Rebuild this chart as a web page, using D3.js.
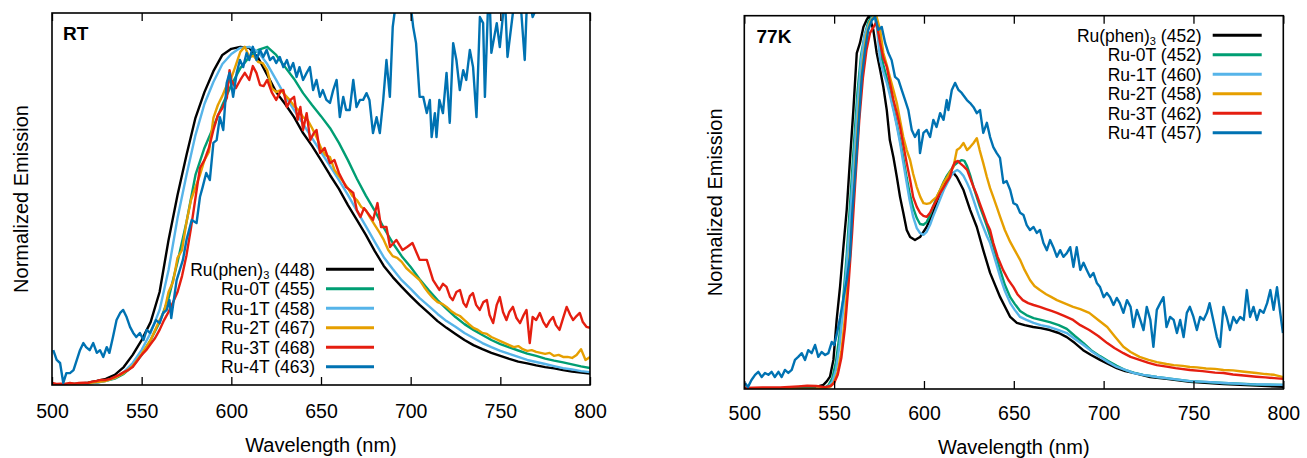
<!DOCTYPE html>
<html><head><meta charset="utf-8">
<script src="https://cdn.jsdelivr.net/npm/d3@7"></script>
<style>
body{margin:0;background:#fff}
svg{display:block}
text{font-family:"Liberation Sans",Arial,Helvetica,sans-serif;fill:#000}
</style>
</head><body>
<svg id="c" width="1307" height="458"></svg>
<script>
// ---------- data ----------
const xTicks = [500, 550, 600, 650, 700, 750, 800];
const seriesNames = ["Ru(phen)3", "Ru-0T", "Ru-1T", "Ru-2T", "Ru-3T", "Ru-4T"];
const seriesColors = ["#000000", "#009e73", "#56b4e9", "#e69f00", "#e51e10", "#0072b2"];
const rtPeaks = ["(448)", "(455)", "(458)", "(467)", "(468)", "(463)"];
const lowTPeaks = ["(452)", "(452)", "(460)", "(458)", "(462)", "(457)"];

// Room temperature spectra [wavelength nm, normalized emission]
const rtBlack = [[500,.002],[505,.002],[510,.003],[515,.004],[520,.007],[525,.012],[530,.018],[535,.030],[540,.053],[545,.089],[550,.133],[555,.186],[560,.275],[565,.429],[570,.562],[575,.680],[580,.790],[585,.866],[590,.928],[595,.976],[600,.994],[605,1.0],[610,.997],[615,.967],[620,.917],[625,.866],[630,.831],[635,.792],[640,.745],[645,.707],[650,.665],[655,.621],[660,.580],[665,.532],[670,.488],[675,.444],[680,.396],[685,.352],[690,.319],[695,.290],[700,.263],[705,.237],[710,.213],[715,.189],[720,.169],[725,.151],[730,.133],[735,.118],[740,.106],[745,.095],[750,.086],[755,.077],[760,.069],[765,.064],[770,.058],[775,.053],[780,.049],[785,.044],[790,.040],[795,.037],[800,.034]];
const rtGreen = [[500,.002],[505,.002],[510,.002],[515,.003],[520,.004],[525,.007],[530,.012],[535,.019],[540,.033],[545,.056],[550,.089],[555,.133],[560,.186],[565,.257],[570,.364],[575,.482],[580,.621],[585,.701],[590,.763],[595,.828],[600,.887],[605,.937],[610,.970],[615,.991],[620,1.0],[625,.976],[630,.940],[635,.905],[640,.863],[645,.828],[650,.795],[655,.760],[660,.716],[665,.665],[670,.610],[675,.560],[680,.515],[685,.465],[690,.420],[695,.381],[700,.349],[705,.313],[710,.281],[715,.251],[720,.225],[725,.201],[730,.180],[735,.163],[740,.148],[745,.133],[750,.121],[755,.111],[760,.102],[765,.093],[770,.086],[775,.078],[780,.072],[785,.067],[790,.061],[795,.055],[800,.050]];
const rtLightBlue = [[500,.002],[505,.002],[510,.002],[515,.003],[520,.004],[525,.007],[530,.012],[535,.021],[540,.038],[545,.065],[550,.104],[555,.154],[560,.222],[565,.340],[570,.494],[575,.621],[580,.739],[585,.831],[590,.896],[595,.949],[600,.979],[605,.997],[610,1.0],[615,.985],[620,.949],[625,.902],[630,.855],[635,.813],[640,.772],[645,.730],[650,.689],[655,.648],[660,.606],[665,.562],[670,.515],[675,.470],[680,.423],[685,.378],[690,.343],[695,.310],[700,.284],[705,.257],[710,.234],[715,.210],[720,.189],[725,.172],[730,.154],[735,.139],[740,.124],[745,.112],[750,.101],[755,.092],[760,.083],[765,.074],[770,.068],[775,.062],[780,.056],[785,.050],[790,.046],[795,.041],[800,.038]];
const rtOrange = [[500,.002],[505,.002],[510,.003],[515,.004],[520,.006],[525,.009],[530,.012],[535,.021],[540,.035],[545,.056],[550,.092],[555,.133],[560,.192],[562.5,.216],[565,.275],[567.5,.305],[570,.376],[572.5,.399],[575,.482],[577.5,.547],[580,.585],[582.5,.621],[585,.665],[587.5,.689],[590,.790],[592.5,.828],[595,.855],[597.5,.887],[600,.908],[602.5,.946],[605,.985],[607.5,1.0],[610,.970],[612.5,.973],[615,.955],[617.5,.952],[620,.931],[622.5,.878],[625,.866],[627.5,.872],[630,.857],[632.5,.843],[635,.825],[637.5,.813],[640,.792],[642.5,.784],[645,.760],[647.5,.733],[650,.701],[652.5,.680],[655,.674],[657.5,.636],[660,.618],[662.5,.600],[665,.582],[667.5,.559],[670,.547],[672.5,.526],[675,.517],[677.5,.494],[680,.473],[682.5,.452],[685,.429],[687.5,.399],[690,.381],[692.5,.376],[695,.364],[697.5,.346],[700,.334],[702.5,.322],[705,.310],[707.5,.290],[710,.272],[712.5,.257],[715,.245],[717.5,.240],[720,.231],[722.5,.219],[725,.210],[727.5,.204],[730,.192],[732.5,.180],[735,.169],[737.5,.163],[740,.154],[742.5,.151],[745,.142],[747.5,.136],[750,.130],[752.5,.124],[755,.118],[757.5,.112],[760,.115],[762.5,.106],[765,.101],[767.5,.103],[770,.098],[772.5,.095],[775,.092],[777.5,.095],[780,.086],[782.5,.089],[785,.083],[787.5,.083],[790,.080],[792.5,.089],[795,.106],[797.5,.074],[800,.083]];
const rtRed = [[500,.006],[502.5,.003],[505,.004],[507.5,.003],[510,.006],[512.5,.004],[515,.006],[517.5,.007],[520,.006],[522.5,.010],[525,.012],[527.5,.015],[530,.015],[532.5,.018],[535,.024],[537.5,.030],[540,.038],[542.5,.044],[545,.053],[547.5,.071],[550,.089],[552.5,.103],[555,.121],[557.5,.139],[560,.163],[562.5,.192],[565,.216],[567.5,.245],[570,.275],[572.5,.322],[575,.384],[577.5,.464],[580,.553],[582.5,.642],[585,.665],[587.5,.701],[590,.754],[592.5,.798],[595,.819],[597.5,.849],[599,.931],[600,.902],[602.5,.878],[605,.902],[607.5,.923],[610,.902],[612,.943],[614,.923],[616,.887],[618,.884],[620,.902],[622.5,.866],[625,.843],[627.5,.869],[629,.872],[631,.822],[633,.843],[635,.852],[637,.784],[638.5,.822],[640,.754],[642,.804],[644,.724],[646,.745],[647.5,.754],[649.5,.686],[652,.701],[655,.656],[657.5,.665],[660,.627],[662,.606],[664,.585],[666,.577],[668,.568],[670,.517],[672,.497],[674,.523],[676,.509],[679,.488],[681.5,.538],[683.5,.467],[686.5,.467],[688.5,.408],[692,.429],[695.5,.399],[698,.408],[701,.420],[705,.370],[709,.370],[712.5,.310],[716,.281],[718,.299],[720,.290],[722,.260],[723.5,.251],[725.5,.275],[727.5,.281],[729.5,.242],[731,.231],[733,.263],[734.7,.272],[736.5,.237],[738.5,.222],[740.5,.245],[742.5,.251],[744,.207],[746,.183],[748,.237],[749.7,.260],[751.5,.216],[753.4,.192],[755,.216],[757,.231],[759,.198],[761,.183],[763,.207],[764.6,.222],[766.4,.124],[768,.201],[770,.192],[772,.213],[774,.186],[775.7,.172],[777.5,.189],[779.4,.201],[781,.177],[783,.163],[785,.198],[787,.231],[789,.207],[790.6,.192],[792.5,.204],[794.3,.213],[796,.186],[798,.172],[800,.169]];
const rtBlue = [[500.7,.103],[502.6,.074],[504.5,.065],[506.3,.006],[508,.035],[510,.035],[512,.044],[515.6,.103],[517.5,.124],[519,.112],[521,.103],[523,.124],[525,.095],[526.8,.103],[528.6,.083],[530.5,.112],[532,.095],[534,.142],[536,.192],[538,.213],[539.7,.222],[541.6,.201],[543.5,.172],[545.3,.154],[547,.142],[549,.154],[551,.133],[552.8,.163],[554.6,.154],[558,.192],[560,.183],[562,.213],[564,.222],[565.5,.251],[566.5,.198],[569.5,.310],[573,.370],[575,.429],[577.9,.488],[580.6,.479],[582.5,.556],[584,.585],[586,.627],[588,.606],[590,.716],[591.8,.724],[593.6,.792],[595.5,.754],[597.4,.893],[599,.923],[601,.852],[603,.923],[604.8,.961],[606.6,.940],[608.5,.982],[610,.961],[612,1.0],[614,.961],[616,.991],[617.8,.970],[619.7,.991],[621.5,.961],[623.4,.970],[625,.952],[627,.970],[629,.940],[631,.961],[632.7,.931],[634.5,.952],[636.4,.911],[638,.940],[640,.902],[642,.923],[643.8,.940],[645.6,.872],[647.5,.902],[649.4,.852],[651,.872],[653,.843],[655,.834],[656.8,.872],[658.7,.902],[660.5,.792],[662.4,.852],[664,.813],[666,.813],[668,.902],[669.8,.822],[671.7,.843],[673.5,.843],[675.4,.863],[677,.843],[679,.745],[681,.792],[682.8,.745],[684.7,.843],[686.5,.961],[688.4,.852],[690,1.059],[691,1.10],[693,1.17],[697,1.18],[700.5,1.10],[701.4,1.059],[703,1.011],[705,.852],[707,.852],[709,.804],[710.7,.843],[711.7,.733],[713.5,.804],[714.4,.733],[716,.843],[718,.804],[720,.923],[721.8,.775],[723.7,1.011],[725.5,.961],[727.4,.872],[729.3,.931],[731,.902],[733,.991],[734.8,.940],[736.7,.792],[738.6,1.088],[740.4,1.070],[741.4,.852],[743,1.10],[744,1.153],[745,.982],[748,1.070],[749.7,.999],[751.6,1.10],[752.5,1.153],[754,.970],[757,1.10],[759,1.168],[761,1.153],[763.6,.961],[764.6,1.10],[766,1.153],[768,1.088],[769,1.10],[771,1.168],[775,1.197],[780,1.18],[785,1.21],[790,1.18],[795,1.197],[800,1.21]];

// 77 K spectra [wavelength nm, normalized emission]
const lowTBlack = [[500,.002],[510,.001],[520,.001],[530,.003],[540,.005],[542,.008],[544,.011],[546,.021],[547.7,.033],[549.6,.078],[551.4,.185],[553.3,.274],[555,.372],[557,.480],[558.8,.613],[560.7,.747],[562.6,.900],[564.4,.927],[566.3,.970],[568,.988],[569.5,1.0],[571.8,.962],[573.7,.900],[575.6,.855],[577.4,.809],[579.3,.747],[581,.667],[583,.621],[584.9,.568],[586.7,.514],[588.5,.472],[590.4,.426],[592.3,.407],[595,.399],[597.8,.407],[601.5,.434],[605,.472],[609,.525],[612.7,.568],[616.4,.579],[618.3,.568],[622,.533],[625.7,.480],[629.4,.434],[633,.372],[636.8,.311],[642.4,.246],[648,.193],[651.7,.177],[656,.171],[660.8,.166],[665,.163],[670,.158],[675,.150],[679.5,.139],[684,.123],[688.6,.104],[693,.091],[698,.078],[702.5,.067],[707.3,.056],[712,.048],[716.6,.043],[721,.038],[725.9,.032],[735,.027],[748,.019],[766.7,.013],[785,.009],[800,.006]];
const lowTGreen = [[500,0],[520,0],[540,.001],[545,.004],[547,.011],[549,.029],[551,.072],[553,.145],[555,.238],[557,.359],[559,.506],[561,.654],[563,.796],[565,.895],[567,.948],[569,.983],[571,.997],[572.5,1.0],[574,.967],[575.6,.908],[577.4,.868],[579.3,.833],[581,.796],[583,.753],[585,.707],[586.7,.667],[588.5,.619],[590.4,.565],[592,.525],[594,.485],[596,.458],[597.8,.442],[599.7,.440],[601.5,.447],[603.4,.466],[605,.488],[607,.512],[609,.533],[611,.555],[613,.573],[615,.587],[617,.600],[619,.608],[621,.613],[622.5,.611],[624,.597],[625.7,.573],[627.6,.541],[629.4,.514],[631,.490],[633,.464],[635,.437],[636.8,.410],[640,.359],[642.4,.319],[645,.279],[648,.246],[650.5,.228],[653.5,.209],[657,.198],[661,.190],[665,.185],[670,.179],[675,.171],[679.5,.161],[684,.142],[688.8,.123],[693,.104],[698,.088],[702.5,.075],[707.3,.062],[712,.051],[716.6,.044],[722,.038],[729.6,.032],[738,.027],[748,.021],[766.7,.016],[785,.012],[800,.011]];
const lowTLightBlue = [[500,0],[520,0],[540,.001],[545,.003],[547,.008],[549,.019],[551,.051],[553,.118],[555,.212],[557,.332],[559,.466],[561,.613],[563,.761],[565,.881],[567,.948],[569,.975],[571,.994],[572.5,1.0],[574,.962],[575.6,.881],[577.4,.849],[579.3,.820],[581,.788],[583,.747],[585,.702],[586.7,.659],[588.5,.606],[590.4,.552],[592,.506],[594,.461],[596,.431],[597.8,.418],[599.7,.413],[601.5,.421],[603.4,.440],[605,.461],[607,.485],[609,.509],[611,.533],[613,.552],[615,.571],[617,.582],[618.5,.587],[620,.582],[622,.571],[624,.552],[625.7,.533],[627.6,.506],[629.4,.480],[631,.458],[633,.434],[635,.410],[636.8,.391],[640,.340],[642.4,.300],[645,.263],[648,.230],[650.5,.212],[653.5,.193],[657,.185],[661,.177],[665,.171],[670,.166],[675,.158],[679.5,.150],[684,.134],[688.8,.118],[693,.102],[698,.086],[702.5,.072],[707.3,.059],[712,.051],[716.6,.043],[722,.038],[729.6,.032],[738,.027],[748,.021],[757,.019],[766.7,.016],[780,.013],[790,.012],[800,.011]];
const lowTOrange = [[500,0],[520,0],[540,.001],[545,.002],[548,.007],[550,.019],[552,.046],[554,.099],[556,.190],[558,.313],[560,.453],[562,.613],[564,.761],[566,.876],[568,.948],[570,.983],[572,.997],[573.5,1.0],[575.6,.962],[577.4,.900],[579.3,.868],[581,.836],[583,.801],[584.9,.766],[586.7,.720],[588.5,.675],[590.4,.640],[592.3,.613],[594,.576],[596,.541],[598,.514],[599.7,.498],[601.5,.496],[603.4,.498],[605,.506],[607,.514],[609,.533],[610.9,.552],[613,.568],[614.5,.581],[616.4,.595],[618.3,.640],[620,.646],[622,.659],[624,.640],[625.7,.648],[627.6,.659],[629.4,.672],[631,.640],[633,.605],[635,.568],[636.8,.538],[638.6,.514],[640.5,.488],[642.4,.461],[645,.426],[648,.394],[650.5,.372],[653.5,.346],[656,.319],[659,.292],[661.5,.276],[664.5,.265],[668,.254],[671,.246],[674,.238],[678,.230],[683,.220],[687,.214],[692,.204],[697,.185],[702,.166],[706,.142],[711,.113],[715,.099],[720,.086],[725,.078],[729.6,.072],[735,.067],[739,.064],[744,.062],[748,.059],[752,.058],[757,.055],[762,.054],[766.7,.051],[772,.050],[777,.047],[785,.043],[790,.040],[795,.038],[800,.032]];
const lowTRed = [[500,.003],[510,.004],[520,.004],[530,.007],[535,.009],[540,.008],[545,.005],[548,.008],[550,.016],[552,.038],[554,.083],[556,.163],[558,.279],[560,.418],[562,.573],[564,.721],[566,.833],[568,.908],[570,.954],[572,.970],[573.5,.983],[575.6,.927],[577.4,.887],[579.3,.863],[581,.822],[583,.774],[584.9,.739],[586.7,.702],[588.5,.654],[590.4,.605],[592.3,.560],[594,.514],[596,.488],[597.8,.472],[599.7,.464],[601.5,.461],[603.4,.472],[605,.488],[607,.506],[609,.525],[611,.541],[612.7,.555],[614.5,.568],[616,.595],[617.3,.608],[619,.611],[620,.605],[622,.597],[624,.587],[625.7,.565],[627.6,.541],[629.4,.520],[631,.498],[633,.472],[635,.445],[636.8,.426],[638.6,.391],[641,.354],[644,.319],[647,.292],[649.8,.273],[652,.254],[655,.238],[658,.230],[661,.225],[664.5,.220],[668,.214],[671,.209],[674,.204],[678,.196],[683,.185],[687,.171],[692,.158],[697,.142],[702,.123],[706,.110],[711,.096],[715,.086],[720,.078],[725,.070],[729.6,.064],[735,.060],[740,.056],[748,.051],[755,.048],[762,.044],[766.7,.043],[772,.039],[778,.036],[785,.033],[790,.031],[795,.029],[800,.027]];
const lowTBlue = [[500.4,.016],[502,.005],[504,.024],[506,.038],[507.8,.046],[509.7,.032],[511.5,.043],[513.4,.038],[515.2,.046],[517,.032],[519,.046],[520.8,.032],[522.6,.051],[524.5,.043],[526.4,.051],[528.2,.078],[530,.086],[532,.096],[533.8,.078],[535.6,.104],[537.5,.096],[539.4,.118],[541.2,.086],[543,.099],[545,.091],[546.8,.096],[548.7,.126],[550,.118],[551.4,.145],[553.3,.190],[555,.238],[557,.292],[558.8,.354],[560,.466],[561.6,.568],[563.5,.702],[565.4,.836],[567.2,.908],[569,.962],[571,.988],[572.8,.997],[574.6,.962],[576.5,.970],[578.4,.927],[580.2,.900],[582,.881],[583.9,.836],[585.8,.828],[587.6,.801],[589.5,.774],[591.3,.747],[593.2,.694],[595,.675],[597,.694],[597.8,.632],[599.7,.686],[601.5,.694],[603.4,.675],[605.2,.721],[607,.702],[609,.739],[610.9,.721],[612.7,.774],[613.6,.747],[615.5,.801],[617.3,.820],[619.2,.801],[621,.793],[623.9,.774],[625.7,.766],[627.6,.755],[629.4,.739],[631.2,.747],[633,.686],[635,.713],[636.8,.675],[638.6,.648],[640.5,.632],[642.3,.619],[644.2,.552],[646,.557],[648,.533],[649.8,.498],[651.7,.493],[653.5,.472],[655.4,.466],[657.2,.439],[659,.426],[661,.434],[662.8,.418],[664.6,.426],[666.5,.391],[668.4,.372],[670.2,.399],[672,.380],[674,.354],[675.8,.372],[677.6,.354],[679.5,.364],[681.4,.380],[683.2,.327],[685,.380],[687,.319],[688.8,.338],[690.6,.319],[692.5,.300],[694.3,.311],[696.2,.284],[698,.273],[700,.246],[701.8,.257],[703.6,.246],[705.5,.225],[707.3,.244],[709,.230],[711,.204],[713,.238],[715,.220],[716.6,.166],[718.5,.212],[720.4,.185],[722.2,.158],[724,.220],[726,.185],[727.7,.113],[729.6,.212],[731.5,.230],[733.3,.246],[735,.166],[737,.193],[739,.185],[740.8,.150],[742.6,.185],[744.5,.139],[746.3,.204],[748,.220],[750,.193],[751.9,.158],[753.7,.193],[755.6,.185],[757.5,.204],[759,.230],[761,.185],[763,.139],[764.8,.113],[766.7,.220],[768.5,.193],[770.3,.158],[772.2,.193],[774,.177],[776,.193],[778,.185],[779.7,.265],[781.5,.193],[783.4,.220],[785.3,.185],[787,.212],[789,.204],[791,.230],[792.8,.265],[794.6,.212],[796.5,.273],[798.3,.204],[799.8,.150]];

// ---------- drawing ----------
const svg = d3.select("#c");
const panels = [
  {tag:"RT", series:[rtBlack,rtGreen,rtLightBlue,rtOrange,rtRed,rtBlue], peaks:rtPeaks,
   left:52, right:590, top:13, bottom:385, yMax:1.1, tickPad:19, titleY:451.5, yTitleX:28,
   tagX:63, tagY:39.5, legTextX:315, legLine:[326,374], legY0:269.3},
  {tag:"77K", series:[lowTBlack,lowTGreen,lowTLightBlue,lowTOrange,lowTRed,lowTBlue], peaks:lowTPeaks,
   left:744.3, right:1283.3, top:15.7, bottom:389, yMax:1.0, tickPad:17, titleY:453.5, yTitleX:721.5,
   tagX:756.5, tagY:43, legTextX:1201.7, legLine:[1212.7,1261.7], legY0:35.3}
];

panels.forEach((p, pi) => {
  const x = d3.scaleLinear().domain([500, 800]).range([p.left, p.right]);
  const y = d3.scaleLinear().domain([0, p.yMax]).range([p.bottom, p.top]);
  const g = svg.append("g");
  const clipId = "clip" + pi;
  svg.append("clipPath").attr("id", clipId).append("rect")
    .attr("x", p.left).attr("y", p.top).attr("width", p.right - p.left).attr("height", p.bottom - p.top);

  const line = d3.line().x(d => x(d[0])).y(d => y(d[1]));
  const lg = g.append("g").attr("clip-path", `url(#${clipId})`);
  p.series.forEach((s, i) => {
    lg.append("path").datum(s).attr("d", line)
      .attr("fill", "none").attr("stroke", seriesColors[i])
      .attr("stroke-width", 2.4).attr("stroke-linejoin", "round");
  });

  // axes
  const xb = g.append("g").attr("transform", `translate(0,${p.bottom})`)
    .call(d3.axisBottom(x).tickValues(xTicks).tickSizeInner(-8).tickSizeOuter(0).tickPadding(p.tickPad).tickFormat(d3.format("d")));
  xb.select(".domain").remove();
  xb.selectAll("line").attr("stroke", "#000").attr("stroke-width", 1.3);
  xb.selectAll("text").style("font-size", "19.5px").attr("fill", "#000");
  const xt = g.append("g").attr("transform", `translate(0,${p.top})`)
    .call(d3.axisTop(x).tickValues(xTicks).tickSizeInner(-8).tickSizeOuter(0).tickFormat(""));
  xt.select(".domain").remove();
  xt.selectAll("line").attr("stroke", "#000").attr("stroke-width", 1.3);

  g.append("rect").attr("x", p.left).attr("y", p.top)
    .attr("width", p.right - p.left).attr("height", p.bottom - p.top)
    .attr("fill", "none").attr("stroke", "#000").attr("stroke-width", 1.6);

  // titles
  g.append("text").attr("x", (p.left + p.right) / 2).attr("y", p.titleY)
    .attr("text-anchor", "middle").style("font-size", "20px").text("Wavelength (nm)");
  g.append("text").attr("transform", `translate(${p.yTitleX},${(p.top + p.bottom) / 2}) rotate(-90)`)
    .attr("text-anchor", "middle").style("font-size", "20px").text("Normalized Emission");
  g.append("text").attr("x", p.tagX).attr("y", p.tagY)
    .style("font-size", "19px").style("font-weight", "bold").text(p.tag);

  // legend
  seriesNames.forEach((name, i) => {
    const ly = p.legY0 + i * 19.5;
    const t = g.append("text").attr("x", p.legTextX).attr("y", ly + 6.5)
      .attr("text-anchor", "end").style("font-size", "17.5px");
    if (name.endsWith("3") && name.startsWith("Ru(")) {
      t.append("tspan").text(name.slice(0, -1));
      t.append("tspan").attr("dy", 3.5).style("font-size", "11px").text("3");
      t.append("tspan").attr("dy", -3.5).text(" " + p.peaks[i]);
    } else {
      t.text(name + " " + p.peaks[i]);
    }
    g.append("line").attr("x1", p.legLine[0]).attr("x2", p.legLine[1])
      .attr("y1", ly).attr("y2", ly)
      .attr("stroke", seriesColors[i]).attr("stroke-width", 3);
  });
});
</script>
</body></html>
